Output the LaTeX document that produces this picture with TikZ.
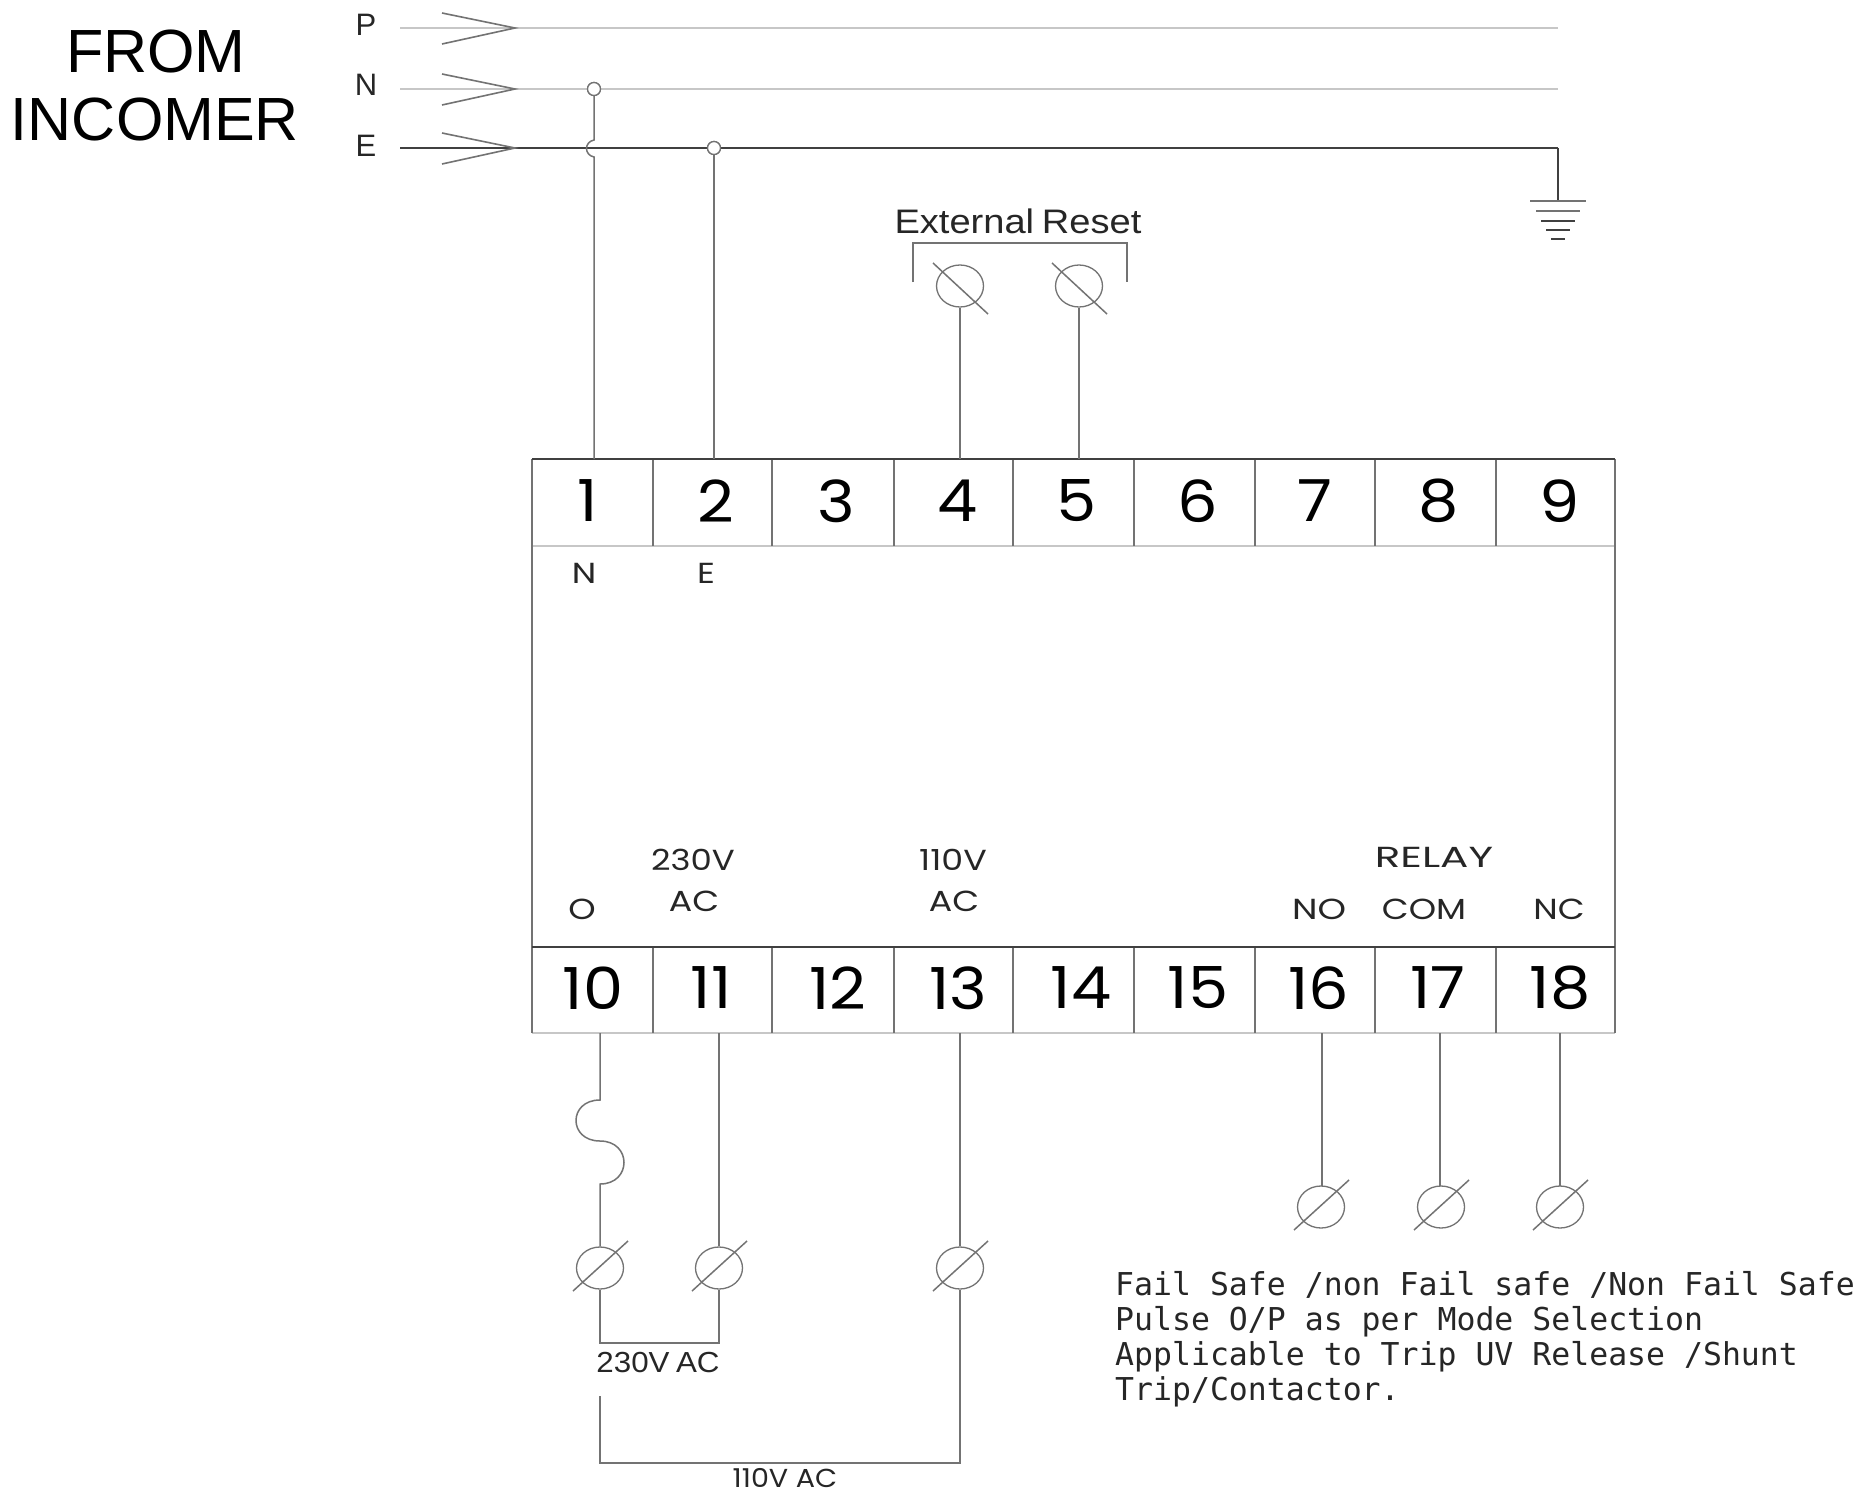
\documentclass[tikz,border=0pt]{standalone}
\usepackage{fontspec}
\usepackage{graphicx}
\setmainfont{Liberation Sans}
\newfontfamily\widefont{Poppins}
\newfontfamily\monofont{DejaVu Sans Mono}
\usetikzlibrary{shapes.geometric}
\definecolor{wire}{gray}{0.45}
\definecolor{dark}{gray}{0.25}
\definecolor{pale}{gray}{0.78}
\newcommand{\stretchx}[2]{\scalebox{#1}[1]{#2}}
\tikzset{
  wireline/.style={draw=wire,line width=1.5pt},
  darkline/.style={draw=dark,line width=1.6pt},
  paleline/.style={draw=pale,line width=1.5pt},
  chevron/.style={draw=wire,line width=1.6pt},
  terminal/.style={ellipse,draw=wire,line width=1.3pt,minimum width=47pt,minimum height=42pt,inner sep=0pt},
  joint/.style={circle,draw=wire,fill=white,line width=1.3pt,minimum size=13pt,inner sep=0pt},
  digit/.style={font=\widefont\fontsize{58}{60}\selectfont,text=black,inner sep=0pt},
  lab/.style={font=\widefont\fontsize{29}{30}\selectfont,text=black!85,inner sep=0pt},
  plain/.style={font=\fontsize{31}{34}\selectfont,text=black!85,inner sep=0pt},
  big/.style={font=\fontsize{61}{64}\selectfont,text=black,inner sep=0pt},
  note/.style={font=\monofont\fontsize{31.5}{35}\selectfont,text=black!85,inner sep=0pt,anchor=west}
}
\begin{document}
\begin{tikzpicture}[x=1pt,y=-1pt]
\useasboundingbox (0,0) rectangle (1871,1493);
\fill[white] (0,0) rectangle (1871,1493);
% incoming labels
\node[big] (from) at (156,52) {FROM};
\node[big] (incomer) at (155,120) {INCOMER};
\node[plain] (lp) at (366,25) {P};
\node[plain] (ln) at (366,85) {N};
\node[plain] (le) at (366,146) {E};
% bus coordinates
\coordinate (ps) at (400,28); \coordinate (pe) at (1558,28);
\coordinate (ns) at (400,89); \coordinate (ne) at (1558,89);
\coordinate (es) at (400,148); \coordinate (ee) at (1558,148);
\node[joint] (jn) at (594,89) {};
\node[joint] (je) at (714,148) {};
\draw[paleline] (ps) -- (pe);
\draw[paleline] (ns) -- (jn) -- (ne);
\node[joint] at (jn) {};
\draw[darkline] (es) -- (je) -- (ee);
\node[joint] at (je) {};
\foreach \y in {28,89,148} {
  \draw[chevron] (442,\y-15) -- (515,\y) -- (442,\y+16);
}
% ground
\coordinate (g0) at (1558,201);
\draw[darkline] (ee) -- (g0);
\draw[wireline] (1530,201) -- (1586,201);
\draw[wireline] (1536,211) -- (1580,211);
\draw[darkline] (1541,221) -- (1575,221);
\draw[darkline] (1546,230) -- (1570,230);
\draw[darkline] (1551,239) -- (1565,239);
% module body
\draw[paleline] (532,546) -- (1615,546);
\draw[paleline] (532,1033) -- (1615,1033);
\foreach \x in {653,772,894,1013,1134,1255,1375,1496} {
  \draw[wireline] (\x,459) -- (\x,546);
  \draw[wireline] (\x,947) -- (\x,1033);
}
\draw[wireline] (532,459) -- (532,1033);
\draw[wireline] (1615,459) -- (1615,1033);
\draw[darkline] (532,459) -- (1615,459);
\draw[darkline] (532,947) -- (1615,947);
% digits
\foreach \n/\x in {1/588,2/716,3/836,4/958,5/1077,6/1198,7/1315,8/1439,9/1560} {
  \node[digit] (d\n) at (\x,501) {\stretchx{1.1}{\n}};
}
\foreach \n/\x in {10/593,11/711,12/838,13/958,14/1081,15/1198,16/1319,17/1438,18/1560} {
  \node[digit] (d\n) at (\x,988) {\stretchx{1.1}{\n}};
}
% inner labels
\node[lab] (tn) at (584,573) {\stretchx{1.2}{N}};
\node[lab] (te) at (706,573) {\stretchx{1.2}{E}};
\node[lab] (to) at (582,909) {\stretchx{1.2}{O}};
\node[lab] (v230) at (693,860) {\stretchx{1.17}{230V}};
\node[lab] (ac230) at (694,901) {\stretchx{1.2}{AC}};
\node[lab] (v110) at (953,860) {\stretchx{1.2}{110V}};
\node[lab] (ac110) at (954,901) {\stretchx{1.2}{AC}};
\node[lab] (relay) at (1434,857) {\stretchx{1.45}{RELAY}};
\node[lab] (no) at (1319,909) {\stretchx{1.25}{NO}};
\node[lab] (com) at (1424,909) {\stretchx{1.2}{COM}};
\node[lab] (nc) at (1559,909) {\stretchx{1.2}{NC}};
% external reset
\node[plain,font=\fontsize{34}{36}\selectfont] (ext) at (1018,221) {\stretchx{1.12}{External\hspace{7pt}Reset}};
\draw[wireline] (913,282) -- (913,243) -- (1127,243) -- (1127,282);
\node[terminal] (r4) at (960,286) {};
\node[terminal] (r5) at (1079,286) {};
\foreach \c in {r4,r5} {
  \draw[wireline] ([shift={(-27,-23)}]\c.center) -- ([shift={(28,28)}]\c.center);
}
% top wires
\coordinate (w1) at (594,459); \coordinate (w2) at (714,459);
\coordinate (w4) at (960,459); \coordinate (w5) at (1079,459);
\draw[wireline] (w1) -- (594,157) .. controls (584,155) and (584,142) .. (594,140) -- (jn.south);
\draw[wireline] (w2) -- (je.south);
\draw[wireline] (w4) -- (r4.south);
\draw[wireline] (w5) -- (r5.south);
% lower terminals
\node[terminal] (t10) at (600,1268) {};
\node[terminal] (t11) at (719,1268) {};
\node[terminal] (t13) at (960,1268) {};
\node[terminal] (t16) at (1321,1207) {};
\node[terminal] (t17) at (1441,1207) {};
\node[terminal] (t18) at (1560,1207) {};
\foreach \c in {t10,t11,t13,t16,t17,t18} {
  \draw[wireline] ([shift={(-27,23)}]\c.center) -- ([shift={(28,-27)}]\c.center);
}
\coordinate (b10) at (600,1033); \coordinate (b11) at (719,1033);
\coordinate (b13) at (960,1033); \coordinate (b16) at (1322,1033);
\coordinate (b17) at (1440,1033); \coordinate (b18) at (1560,1033);
\draw[wireline] (b10) -- (600,1100) .. controls (568,1100) and (568,1141) .. (600,1141) .. controls (632,1141) and (632,1184) .. (600,1184) -- (t10.north);
\draw[wireline] (b11) -- (t11.north);
\draw[wireline] (b13) -- (t13.north);
\draw[wireline] (b16) -- (1322,1186);
\draw[wireline] (b17) -- (1440,1186);
\draw[wireline] (b18) -- (1560,1186);
\draw[wireline] (t10.south) -- (600,1343) -- (719,1343) -- (t11.south);
\coordinate (n110) at (600,1396);
\draw[wireline] (n110) -- (600,1463) -- (960,1463) -- (t13.south);
\node[plain,font=\fontsize{29}{31}\selectfont] (l230) at (658,1363) {\stretchx{1.08}{230V\hspace{6pt}AC}};
\node[lab,font=\widefont\fontsize{26}{28}\selectfont,text height=19pt,text depth=0pt] (l110) at (785,1478) {\stretchx{1.1}{110V AC}};
% note
\node[note] (n1) at (1115,1285) {Fail Safe /non Fail safe /Non Fail Safe};
\node[note] (n2) at (1115,1322) {Pulse O/P as per Mode Selection};
\node[note] (n3) at (1115,1357) {Applicable to Trip UV Release /Shunt};
\node[note] (n4) at (1115,1392) {Trip/Contactor.};
\end{tikzpicture}
\end{document}
